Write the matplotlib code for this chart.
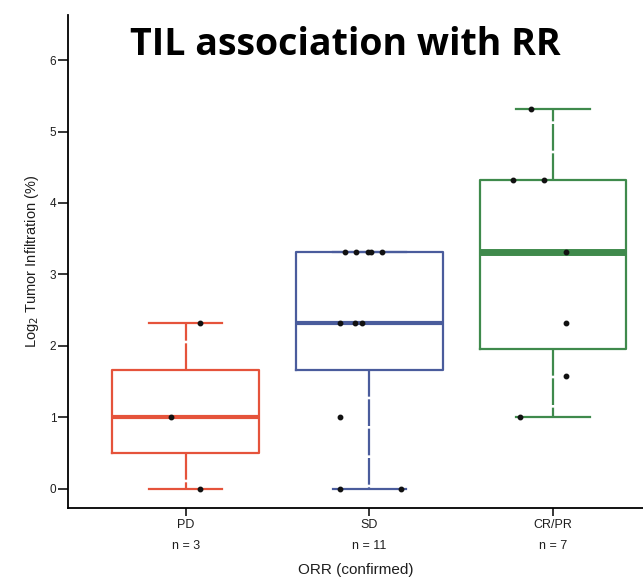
import matplotlib.pyplot as plt
import numpy as np

# log2 tumor infiltration values per response group
groups = ['PD', 'SD', 'CR/PR']
counts = [3, 11, 7]
pd_vals = [2.32, 1.0, 0.0]
sd_vals = [3.32, 3.32, 3.32, 3.32, 3.32, 2.32, 2.32, 2.32, 1.0, 0.0, 0.0]
cr_vals = [5.32, 4.32, 4.32, 3.32, 2.32, 1.58, 1.0]
# horizontal jitter of the dots (category units)
pd_jit = [0.08, -0.08, 0.08]
sd_jit = [-0.13, -0.07, -0.01, 0.01, 0.07, -0.16, -0.08, -0.04, -0.16, -0.16, 0.17]
cr_jit = [-0.12, -0.22, -0.05, 0.07, 0.07, 0.07, -0.18]

colors = ['#e5533b', '#4a5c9c', '#3f8a4c']
median_w = [3, 3, 5]
data = [pd_vals, sd_vals, cr_vals]
jits = [pd_jit, sd_jit, cr_jit]

plt.rcParams['font.family'] = ['Liberation Sans', 'DejaVu Sans']
txt = '#1e1e1e'

fig = plt.figure(figsize=(6.43, 5.79), dpi=100)
ax = fig.add_axes([0.106, 0.1226, 0.894, 0.8514])

pos = np.arange(1, len(groups) + 1)
bp = ax.boxplot(data, positions=pos, widths=0.8, showfliers=False,
                whis=1.5, patch_artist=False)
for i, c in enumerate(colors):
    bp['boxes'][i].set(color=c, linewidth=1.6)
    bp['medians'][i].set(color=c, linewidth=median_w[i], solid_capstyle='butt')
    for w in bp['whiskers'][2 * i:2 * i + 2]:
        w.set(color=c, linewidth=1.6, linestyle=(0, (12, 1.2)))
    for cap in bp['caps'][2 * i:2 * i + 2]:
        cap.set(color=c, linewidth=1.6)
        mid = cap.get_xdata().mean()
        cap.set_xdata([mid - 0.2, mid + 0.2])

for i, (vals, jit) in enumerate(zip(data, jits)):
    ax.plot(pos[i] + np.array(jit), vals, 'o', color='#111111', ms=3.2,
            zorder=5)

ax.set_xlim(0.36, 3.49)
ax.set_ylim(-0.27, 6.63)
ax.set_yticks(range(0, 7))
ax.set_xticks(pos)
ax.set_xticklabels([f'{g}\nn = {n}' for g, n in zip(groups, counts)],
                   fontsize=9, color=txt, linespacing=1.95)
ax.tick_params(axis='y', labelsize=8.5, labelcolor=txt, length=7, width=1.1,
               pad=1.5)
ax.tick_params(axis='x', length=6, width=1.1, pad=2)
ax.spines['top'].set_visible(False)
ax.spines['right'].set_visible(False)
ax.spines['left'].set_linewidth(1.3)
ax.spines['bottom'].set_linewidth(1.3)
ax.set_ylabel('Log$_2$ Tumor Infiltration (%)', fontsize=10.5, color=txt,
              labelpad=6)
ax.set_xlabel('ORR (confirmed)', fontsize=11, color=txt, labelpad=8)

fig.text(0.537, 0.922, 'TIL association with RR', fontsize=27,
         fontweight='bold', family='Open Sans', ha='center', va='center')

fig.savefig('out.png', dpi=100)
